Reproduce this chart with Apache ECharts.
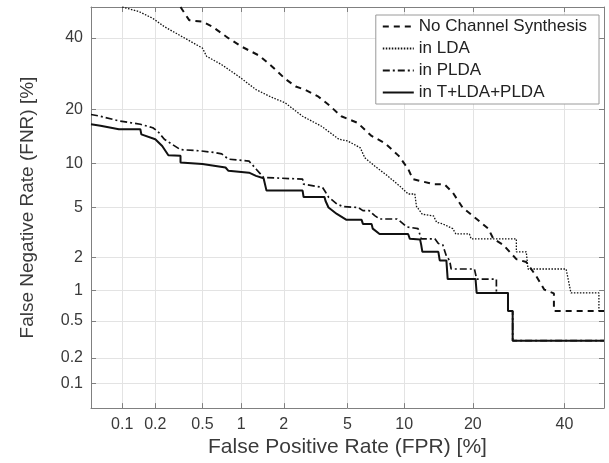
<!DOCTYPE html>
<html>
<head>
<meta charset="utf-8">
<script src="https://cdn.jsdelivr.net/npm/echarts@6/dist/echarts.min.js"></script>
<style>
  html, body { margin: 0; padding: 0; background: #fff; }
  #main { width: 609px; height: 463px; }
</style>
</head>
<body>
<div id="main"></div>
<script>
// DET curve: FPR / FNR in percent, drawn on a normal-deviate (probit) scale
const tickPercents = [0.1, 0.2, 0.5, 1, 2, 5, 10, 20, 40];
const tickLabels = ['0.1', '0.2', '0.5', '1', '2', '5', '10', '20', '40'];
const axisRange = [0.05, 50];

const seriesNames = ['No Channel Synthesis', 'in LDA', 'in PLDA', 'in T+LDA+PLDA'];

// [FPR %, FNR %]
const noSynthesis = [
  [0.33, 50], [0.39, 45.7], [0.5, 45.2], [0.6, 43.6], [0.8, 39.9], [1.0, 37.3],
  [1.35, 34.5], [1.66, 31.3], [2.04, 27.8], [2.4, 25.7], [2.75, 24.9], [3.35, 23.1],
  [3.85, 21.2], [4.6, 18.5], [5.7, 17.1], [6.8, 14.5], [8.0, 13.2], [9.4, 11.1],
  [10.45, 9.2], [11.0, 7.9], [13.7, 7.3], [15.3, 7.3], [16.6, 6.4], [18.2, 5.0],
  [20.7, 4.1], [22.9, 3.45], [23.9, 2.86], [25.9, 2.55], [28.7, 1.93], [30.9, 1.82],
  [33.1, 1.38], [35.1, 1.02], [37.4, 0.94], [37.4, 0.63], [50, 0.63]
];
const inLDA = [
  [0.1, 50], [0.143, 48.5], [0.19, 46.3], [0.24, 43.6], [0.34, 40.4], [0.5, 36.8],
  [0.54, 34.3], [0.71, 31.8], [0.96, 28.4], [1.28, 24.9], [1.66, 22.9], [2.04, 21.6],
  [2.66, 18.5], [3.5, 16.4], [4.45, 13.9], [5.0, 13.6], [5.9, 12.4], [6.25, 10.8],
  [7.07, 9.6], [8.15, 8.4], [9.5, 7.1], [10.45, 6.25], [11.25, 6.25], [11.45, 5.1],
  [12.2, 4.45], [13.7, 4.33], [14.15, 3.87], [15.05, 3.76], [16.6, 3.45], [17.1, 3.13],
  [19.4, 3.13], [19.7, 2.86], [28.7, 2.86], [28.7, 2.23], [30.9, 2.23], [31.3, 1.58],
  [40.4, 1.58], [41.6, 0.95], [48.7, 0.95], [48.7, 0.63], [50, 0.63]
];
const inPLDA = [
  [0.05, 18.9], [0.062, 18.5], [0.093, 17.5], [0.147, 16.8], [0.19, 16.1], [0.21, 15.4],
  [0.24, 13.9], [0.28, 13.0], [0.33, 12.1], [0.48, 11.9], [0.64, 11.6], [0.71, 11.4],
  [0.8, 10.6], [1.14, 10.3], [1.28, 9.2], [1.45, 8.1], [1.49, 7.9], [2.66, 7.9],
  [2.7, 7.3], [3.55, 6.95], [3.7, 6.45], [3.86, 5.95], [4.33, 5.3], [4.73, 5.07],
  [5.75, 5.0], [6.1, 4.74], [6.6, 4.74], [7.07, 4.35], [7.5, 4.1], [9.2, 4.1],
  [9.5, 3.97], [10.3, 3.56], [11.65, 3.45], [12.05, 2.86], [13.9, 2.86], [14.4, 2.62],
  [15.05, 2.55], [15.6, 2.05], [16.1, 1.88], [16.35, 1.58], [20.3, 1.58], [20.7, 1.28],
  [24.5, 1.28], [24.5, 0.95], [26.9, 0.95], [26.9, 0.63], [27.9, 0.63], [27.9, 0.31],
  [50, 0.31]
];
const inAll = [
  [0.05, 16.8], [0.062, 16.5], [0.093, 15.8], [0.147, 15.8], [0.15, 14.8], [0.2, 13.9],
  [0.23, 12.7], [0.26, 11.2], [0.33, 11.1], [0.33, 10.1], [0.5, 9.9], [0.76, 9.4],
  [0.8, 8.95], [1.14, 8.7], [1.28, 8.3], [1.45, 8.0], [1.52, 6.6], [2.66, 6.6],
  [2.7, 5.95], [3.65, 5.95], [3.7, 5.6], [3.86, 5.0], [4.33, 4.48], [4.93, 4.04],
  [6.0, 4.04], [6.1, 3.76], [6.8, 3.76], [6.9, 3.45], [7.5, 3.13], [10.45, 3.13],
  [10.65, 2.86], [11.9, 2.83], [12.05, 2.55], [12.2, 2.23], [14.4, 2.23], [14.6, 1.88],
  [15.6, 1.88], [15.8, 1.28], [20.5, 1.28], [20.7, 0.95], [26.9, 0.95], [26.9, 0.63],
  [27.9, 0.63], [27.9, 0.31], [50, 0.31]
];

// inverse standard normal CDF (Acklam)
function probit(p) {
  const a = [-3.969683028665376e+01, 2.209460984245205e+02, -2.759285104469687e+02, 1.383577518672690e+02, -3.066479806614716e+01, 2.506628277459239e+00];
  const b = [-5.447609879822406e+01, 1.615858368580409e+02, -1.556989798598866e+02, 6.680131188771972e+01, -1.328068155288572e+01];
  const c = [-7.784894002430293e-03, -3.223964580411365e-01, -2.400758277161838e+00, -2.549732539343734e+00, 4.374664141464968e+00, 2.938163982698783e+00];
  const d = [7.784695709041462e-03, 3.224671290700398e-01, 2.445134137142996e+00, 3.754408661907416e+00];
  const pl = 0.02425;
  let q, r;
  if (p < pl) {
    q = Math.sqrt(-2 * Math.log(p));
    return (((((c[0]*q+c[1])*q+c[2])*q+c[3])*q+c[4])*q+c[5]) / ((((d[0]*q+d[1])*q+d[2])*q+d[3])*q+1);
  }
  if (p <= 1 - pl) {
    q = p - 0.5; r = q * q;
    return (((((a[0]*r+a[1])*r+a[2])*r+a[3])*r+a[4])*r+a[5])*q / (((((b[0]*r+b[1])*r+b[2])*r+b[3])*r+b[4])*r+1);
  }
  q = Math.sqrt(-2 * Math.log(1 - p));
  return -(((((c[0]*q+c[1])*q+c[2])*q+c[3])*q+c[4])*q+c[5]) / ((((d[0]*q+d[1])*q+d[2])*q+d[3])*q+1);
}

const toDev = pct => probit(pct / 100);
const tickDev = tickPercents.map(toDev);
const minDev = toDev(axisRange[0]);
const maxDev = toDev(axisRange[1]);

function tickText(v) {
  let best = 0;
  tickDev.forEach((t, i) => { if (Math.abs(t - v) < Math.abs(tickDev[best] - v)) best = i; });
  return tickLabels[best];
}

const FONT = 'Liberation Sans, Arial, sans-serif';
const axisColor = '#808080';
const gridColor = '#e3e3e3';

function makeAxis(pos, main) {
  return {
    type: 'value',
    position: pos,
    min: minDev,
    max: maxDev,
    axisLine: { show: true, onZero: false, lineStyle: { color: axisColor, width: 1 } },
    axisTick: { show: true, inside: true, length: 5, customValues: tickDev, lineStyle: { color: axisColor } },
    axisLabel: main ? {
      show: true, customValues: tickDev, formatter: tickText,
      fontFamily: FONT, fontSize: 16, color: '#3a3a3a', margin: 8
    } : { show: false },
    splitLine: { show: main, lineStyle: { color: gridColor, width: 1 } }
  };
}

const xMain = makeAxis('bottom', true);
xMain.name = 'False Positive Rate (FPR) [%]';
xMain.nameLocation = 'middle';
xMain.nameGap = 27;
xMain.nameTextStyle = { fontFamily: FONT, fontSize: 21, color: '#3a3a3a' };

const yMain = makeAxis('left', true);
yMain.name = 'False Negative Rate (FNR) [%]';
yMain.nameLocation = 'middle';
yMain.nameGap = 54;
yMain.nameTextStyle = { fontFamily: FONT, fontSize: 19, color: '#3a3a3a' };

const lineStyles = [
  { type: [6, 5], width: 2 },
  { type: [1.5, 1.5], width: 1.3 },
  { type: [7, 3, 2, 3], width: 1.7 },
  { type: 'solid', width: 2 }
];
const seriesData = [noSynthesis, inLDA, inPLDA, inAll];

const myChart = echarts.init(document.getElementById('main'));

const option = {
  animation: false,
  backgroundColor: '#fff',
  grid: { left: 91, top: 7, width: 513, height: 402, containLabel: false },
  xAxis: [xMain, makeAxis('top', false)],
  yAxis: [yMain, makeAxis('right', false)],
  legend: {
    orient: 'vertical',
    right: 10,
    top: 15,
    padding: [3, 12, 3, 6],
    itemWidth: 31,
    itemHeight: 14,
    itemGap: 5,
    backgroundColor: '#fff',
    borderColor: '#9a9a9a',
    borderWidth: 1,
    itemStyle: { opacity: 0 },
    textStyle: { fontFamily: FONT, fontSize: 17, color: '#222' },
    data: seriesNames
  },
  series: seriesNames.map((name, i) => ({
    name: name,
    type: 'line',
    xAxisIndex: 0,
    yAxisIndex: 0,
    showSymbol: false,
    symbol: 'none',
    z: 3,
    lineStyle: Object.assign({ color: '#111' }, lineStyles[i]),
    itemStyle: { color: '#111' },
    data: seriesData[i].map(p => [toDev(p[0]), toDev(p[1])])
  }))
};

myChart.setOption(option);
</script>
</body>
</html>
